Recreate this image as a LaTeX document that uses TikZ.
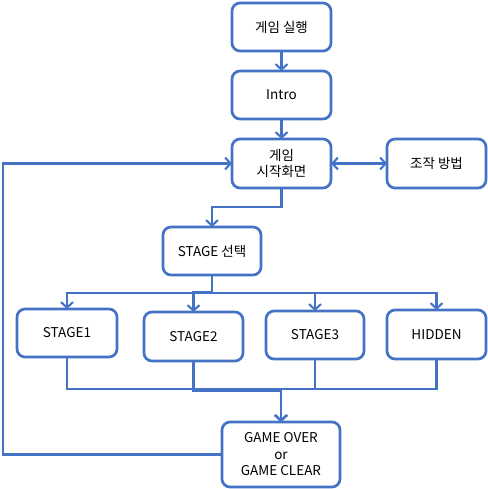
\documentclass[tikz,border=0pt]{standalone}
\usepackage{fontspec}
\setmainfont{Noto Sans CJK KR}
\usetikzlibrary{arrows.meta,calc}
\definecolor{ofblue}{HTML}{4472C4}
\begin{document}
\begin{tikzpicture}[x=1pt,y=-1pt,
  box/.style={draw=ofblue,line width=2.7pt,rounded corners=8pt,minimum width=99pt,minimum height=48pt,align=center,inner sep=1pt,outer sep=0pt,font=\fontsize{13.5}{16.5}\selectfont},
  tip/.tip={Straight Barb[length=5.5pt,width=12pt]},
  arr/.style={draw=ofblue,line width=2.1pt,-tip},
  lin/.style={draw=ofblue,line width=2.1pt}]
\useasboundingbox (0,0) rectangle (487,489);
\node[box] (run) at (281.5,27) {게임 실행};
\node[box] (intro) at (281.5,95) {Intro};
\node[box,minimum height=49pt] (start) at (281.5,163.5) {게임\\시작화면};
\node[box,minimum height=49pt] (ctrl) at (436.5,163.5) {조작 방법};
\node[box,minimum width=98pt] (sel) at (212,251) {STAGE 선택};
\node[box,minimum width=100pt] (s1) at (67,333) {STAGE1};
\node[box,minimum height=49pt] (s2) at (193.5,336.5) {STAGE2};
\node[box,minimum width=98pt] (s3) at (315,335) {STAGE3};
\node[box,minimum height=49pt] (hid) at (436.5,334.5) {HIDDEN};
\node[box,minimum width=118pt,minimum height=65pt] (game) at (281,454.5) {GAME OVER\\or\\GAME CLEAR};
\coordinate (bend) at (0,207);
\coordinate (fork) at (0,293);
\coordinate (forkb) at (0,291.6);
\coordinate (join) at (0,389);
\coordinate (joinb) at (0,390.6);
\coordinate (loopx) at (3,0);
\draw[arr] (run) -- (intro);
\draw[arr] (intro) -- (start);
\draw[lin,tip-tip] (start) -- (ctrl);
\draw[arr] (start.south) -- (start.south |- bend) -- (sel.north |- bend) -- (sel.north);
\draw[arr] (sel.south) -- (sel.south |- fork) -- (s1.north |- fork) -- (s1.north);
\draw[arr] (sel.south) -- (sel.south |- forkb) -- (s2.north |- forkb) -- (s2.north);
\draw[arr] (sel.south) -- (sel.south |- fork) -- (s3.north |- fork) -- (s3.north);
\draw[arr] (sel.south) -- (sel.south |- fork) -- (hid.north |- fork) -- (hid.north);
\draw[arr] (s1.south) -- (s1.south |- join) -- (game.north |- join) -- (game.north);
\draw[arr] (s2.south) -- (s2.south |- joinb) -- (game.north |- joinb) -- (game.north);
\draw[arr] (s3.south) -- (s3.south |- join) -- (game.north |- join) -- (game.north);
\draw[arr] (hid.south) -- (hid.south |- join) -- (game.north |- join) -- (game.north);
\draw[arr] (game.west) -- (game.west -| loopx) -- (loopx |- start.west) -- (start.west);
\end{tikzpicture}
\end{document}
